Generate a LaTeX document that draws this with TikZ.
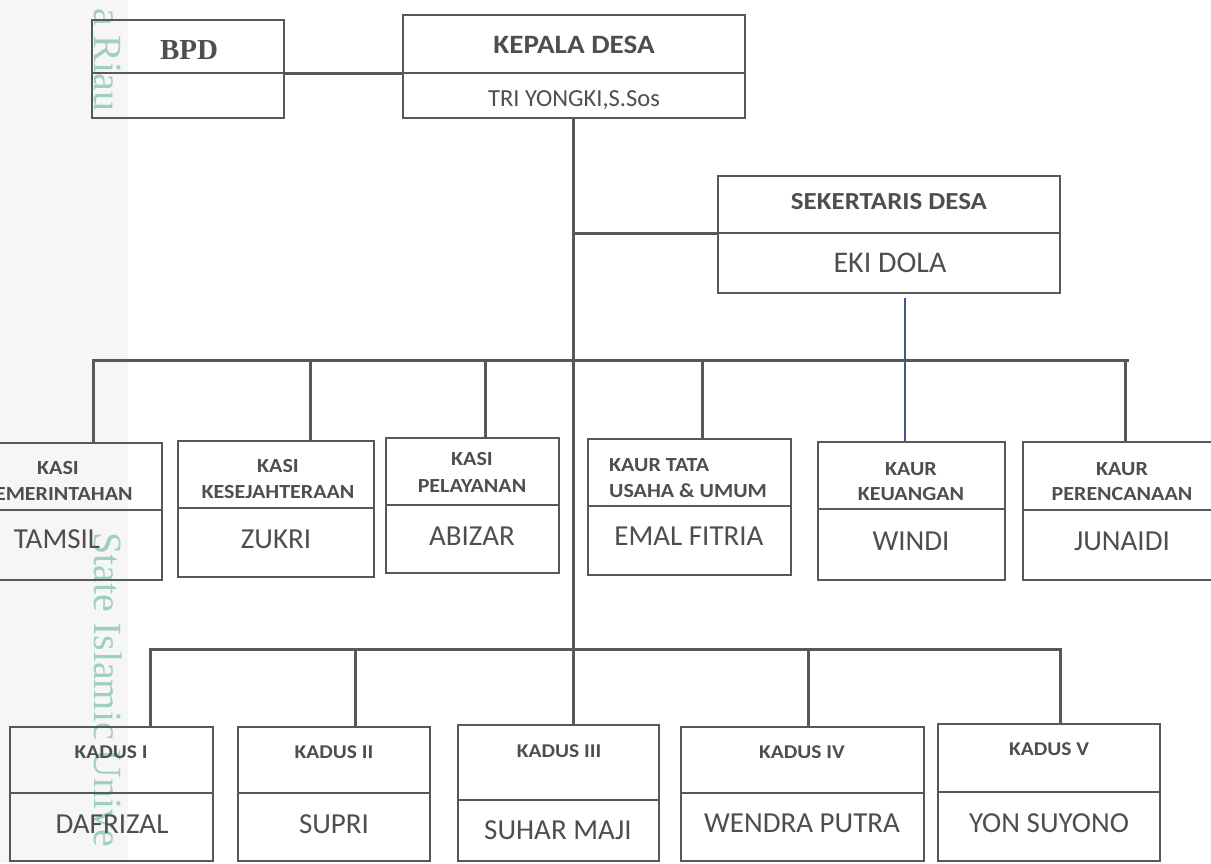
\documentclass[tikz,border=0pt]{standalone}
\usepackage{fontspec}
\setmainfont{Carlito}[BoldFeatures={FakeStretch=1.1}]
\newfontfamily\seriff{Liberation Serif}
\definecolor{ln}{RGB}{88,88,88}
\definecolor{tx}{RGB}{78,78,78}
\definecolor{bl}{RGB}{70,88,140}
\definecolor{wm}{RGB}{158,208,188}
\definecolor{strip}{RGB}{246,246,246}
\newcommand\orgbox[6]{%
  \node[box,minimum width={(#5)-(#2)},minimum height={(#4)-(#3)}] (#1t) at ({((#2)+(#5))/2},{((#3)+(#4))/2}) {};
  \node[box,minimum width={(#5)-(#2)},minimum height={(#6)-(#4)}] (#1b) at ({((#2)+(#5))/2},{((#4)+(#6))/2}) {};}
\begin{document}
\begin{tikzpicture}[x=1pt,y=-1pt,
  box/.style={draw=ln,line width=2.3pt,inner sep=0pt,outer sep=0pt,rectangle},
  conn/.style={draw=ln,line width=3pt},
  blueconn/.style={draw=bl,line width=2.6pt},
  lbl/.style={inner sep=0pt,anchor=base,text=tx,font=\bfseries\fontsize{20}{24}\selectfont},
  klbl/.style={lbl,font=\bfseries\fontsize{19.5}{24}\selectfont},
  nm/.style={inner sep=0pt,anchor=base,text=tx,font=\fontsize{29}{33}\selectfont},
  wmtext/.style={inner sep=0pt,text=wm,font=\seriff\fontsize{40}{44}\selectfont,rotate=-90,anchor=base west}]
\useasboundingbox (0,0) rectangle (1211,863);
\fill[strip] (0,0) rectangle (128,863);
\node[wmtext] (wm1) at (94,8) {a Riau};
\node[wmtext] (wm2) at (94,532) {State Islamic Unive};

% boxes
\orgbox{bpd}{92}{20}{73}{284}{118}
\orgbox{kep}{403}{15}{73}{745}{118}
\orgbox{sek}{718}{176}{233}{1060}{293}
\orgbox{pem}{-46}{443}{510}{162}{580}
\orgbox{kes}{178}{441}{508}{374}{577}
\orgbox{pel}{386}{438}{505}{559}{573}
\orgbox{tat}{588}{439}{506}{791}{575}
\orgbox{keu}{818}{442}{509}{1005}{580}
\orgbox{per}{1023}{442}{510}{1222}{580}
\orgbox{kda}{10}{727}{793}{213}{861}
\orgbox{kdb}{238}{727}{793}{430}{861}
\orgbox{kdc}{458}{725}{800}{659}{861}
\orgbox{kdd}{681}{727}{793}{924}{861}
\orgbox{kde}{938}{724}{792}{1160}{861}

% texts
\node[inner sep=0pt,anchor=base,text=tx,font=\seriff\bfseries\fontsize{29}{32}\selectfont] (tbpd) at (189,59) {BPD};
\node[lbl,font=\bfseries\fontsize{26.5}{30}\selectfont] (tkep) at (574,53.5) {KEPALA DESA};
\node[nm,font=\fontsize{24.5}{28}\selectfont] (nkep) at (574,106) {TRI YONGKI,S.Sos};
\node[lbl,font=\bfseries\fontsize{24.5}{28}\selectfont] (tsek) at (889,209) {SEKERTARIS DESA};
\node[nm,font=\fontsize{30}{34}\selectfont] (nsek) at (890,272) {EKI DOLA};

\node[lbl] (tpem1) at (58,474) {KASI};
\node[lbl] (tpem2) at (58,500) {PEMERINTAHAN};
\node[nm] (npem) at (57,548) {TAMSIL};
\node[lbl] (tkes1) at (278,472) {KASI};
\node[lbl] (tkes2) at (278,498) {KESEJAHTERAAN};
\node[nm] (nkes) at (276,548) {ZUKRI};
\node[lbl] (tpel1) at (472,465) {KASI};
\node[lbl] (tpel2) at (472,492) {PELAYANAN};
\node[nm] (npel) at (472,545) {ABIZAR};
\node[lbl,anchor=base west] (ttat1) at (609,471) {KAUR TATA};
\node[lbl,anchor=base west] (ttat2) at (609,497) {USAHA \& UMUM};
\node[nm] (ntat) at (689,545) {EMAL FITRIA};
\node[lbl] (tkeu1) at (911,475) {KAUR};
\node[lbl] (tkeu2) at (911,500) {KEUANGAN};
\node[nm] (nkeu) at (911,550) {WINDI};
\node[lbl] (tper1) at (1122,475) {KAUR};
\node[lbl] (tper2) at (1122,500) {PERENCANAAN};
\node[nm] (nper) at (1122,550) {JUNAIDI};

\node[klbl] (tkda) at (111,758) {KADUS I};
\node[nm] (nkda) at (112,833) {DAFRIZAL};
\node[klbl] (tkdb) at (334,758) {KADUS II};
\node[nm] (nkdb) at (334,833) {SUPRI};
\node[klbl] (tkdc) at (559,757) {KADUS III};
\node[nm] (nkdc) at (558,839) {SUHAR MAJI};
\node[klbl] (tkdd) at (802,758) {KADUS IV};
\node[nm] (nkdd) at (802,832) {WENDRA PUTRA};
\node[klbl] (tkde) at (1049,755) {KADUS V};
\node[nm] (nkde) at (1049,832) {YON SUYONO};

% connectors
\draw[conn] (bpdt.south east) -- (kept.south west);
\coordinate (mtop) at ([xshift=-1pt]kepb.south);
\draw[conn] (mtop) -- (mtop |- kdct.north);
\draw[conn] (sekt.south west) -- (sekt.south west -| mtop);
\coordinate (busL) at (93,360);
\coordinate (busR) at (1127,360);
\draw[conn,line cap=rect] (busL) -- (busR);
\coordinate (dpem) at (93,360);
\coordinate (dkes) at (310,360);
\coordinate (dpel) at (485,360);
\coordinate (dtat) at (702,360);
\coordinate (dper) at (1125,360);
\draw[conn] (dpem) -- (dpem |- pemt.north);
\draw[conn] (dkes) -- (dkes |- kest.north);
\draw[conn] (dpel) -- (dpel |- pelt.north);
\draw[conn] (dtat) -- (dtat |- tatt.north);
\draw[conn] (dper) -- (dper |- pert.north);
\coordinate (btop) at (905,298);
\draw[blueconn] (btop) -- (btop |- keut.north);
\coordinate (kL) at (150,649);
\coordinate (kB) at (355,649);
\coordinate (kD) at (808,649);
\coordinate (kR) at (1060,649);
\draw[conn,line cap=rect] (kL) -- (kR);
\draw[conn] (kL) -- (kL |- kdat.north);
\draw[conn] (kB) -- (kB |- kdbt.north);
\draw[conn] (kD) -- (kD |- kddt.north);
\draw[conn] (kR) -- (kR |- kdet.north);
\end{tikzpicture}
\end{document}
